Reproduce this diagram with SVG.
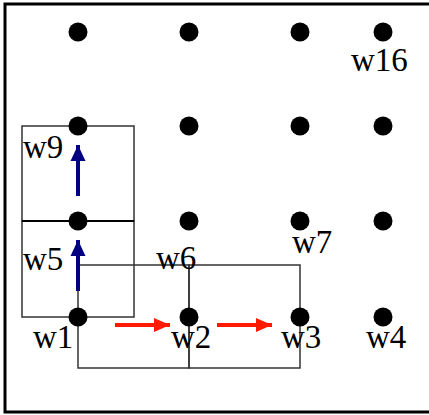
<svg xmlns="http://www.w3.org/2000/svg" width="429" height="415" viewBox="0 0 429 415">
<style>
.dot{fill:#000}
.box{fill:none;stroke:#333;stroke-width:1.5}
.lbl{font-family:"Liberation Serif",serif;font-size:33px;fill:#000}
.blue{stroke:#000080;stroke-width:4;fill:none}
.red{stroke:#ff1a00;stroke-width:4;fill:none}
</style>
<defs>
<marker id="hb" markerUnits="userSpaceOnUse" markerWidth="16" markerHeight="16" refX="16" refY="8" orient="auto"><path d="M0,0.5 L16,8 L0,15.5 z" fill="#000080"/></marker>
<marker id="hr" markerUnits="userSpaceOnUse" markerWidth="16" markerHeight="15" refX="16" refY="7.5" orient="auto"><path d="M0,0.5 L16,7.5 L0,14.5 z" fill="#ff1a00"/></marker>
</defs>
<rect x="5" y="4" width="440" height="408" fill="#fff" stroke="#000" stroke-width="3"/>
<g id="boxes">
<rect class="box" x="22" y="126" width="112" height="95"/>
<rect class="box" x="22" y="221" width="112" height="96"/>
<line x1="22" y1="221" x2="134" y2="221" stroke="#000" stroke-width="2"/>
<rect class="box" x="78" y="265" width="111" height="103"/>
<rect class="box" x="189" y="265" width="111" height="103"/>
</g>
<g id="connectors">
<line class="blue" x1="78" y1="196" x2="78" y2="145" marker-end="url(#hb)"/>
<line class="blue" x1="78" y1="291" x2="78" y2="240" marker-end="url(#hb)"/>
<line class="red" x1="115" y1="325" x2="170" y2="325" marker-end="url(#hr)"/>
<line class="red" x1="217" y1="325" x2="272" y2="325" marker-end="url(#hr)"/>
</g>
<g id="w13"><circle class="dot" cx="78" cy="32" r="9.5"/></g>
<g id="w14"><circle class="dot" cx="189" cy="32" r="9.5"/></g>
<g id="w15"><circle class="dot" cx="300" cy="32" r="9.5"/></g>
<g id="w16"><circle class="dot" cx="383" cy="32" r="9.5"/><text class="lbl" x="351" y="71">w16</text></g>
<g id="w9"><circle class="dot" cx="78" cy="126" r="9.5"/><text class="lbl" x="23" y="158">w9</text></g>
<g id="w5"><circle class="dot" cx="78" cy="221" r="9.5"/><text class="lbl" x="23" y="270">w5</text></g>
<g id="w10"><circle class="dot" cx="189" cy="126" r="9.5"/></g>
<g id="w11"><circle class="dot" cx="300" cy="126" r="9.5"/></g>
<g id="w12"><circle class="dot" cx="383" cy="126" r="9.5"/></g>
<g id="w6"><circle class="dot" cx="189" cy="221" r="9.5"/><text class="lbl" x="156" y="269">w6</text></g>
<g id="w7"><circle class="dot" cx="300" cy="221" r="9.5"/><text class="lbl" x="292" y="253">w7</text></g>
<g id="w8"><circle class="dot" cx="383" cy="221" r="9.5"/></g>
<g id="w1"><circle class="dot" cx="78" cy="317" r="9.5"/><text class="lbl" x="33" y="348">w1</text></g>
<g id="w2"><circle class="dot" cx="189" cy="317" r="9.5"/><text class="lbl" x="171" y="348">w2</text></g>
<g id="w3"><circle class="dot" cx="300" cy="317" r="9.5"/><text class="lbl" x="281" y="348">w3</text></g>
<g id="w4"><circle class="dot" cx="383" cy="317" r="9.5"/><text class="lbl" x="366" y="348">w4</text></g>
</svg>
